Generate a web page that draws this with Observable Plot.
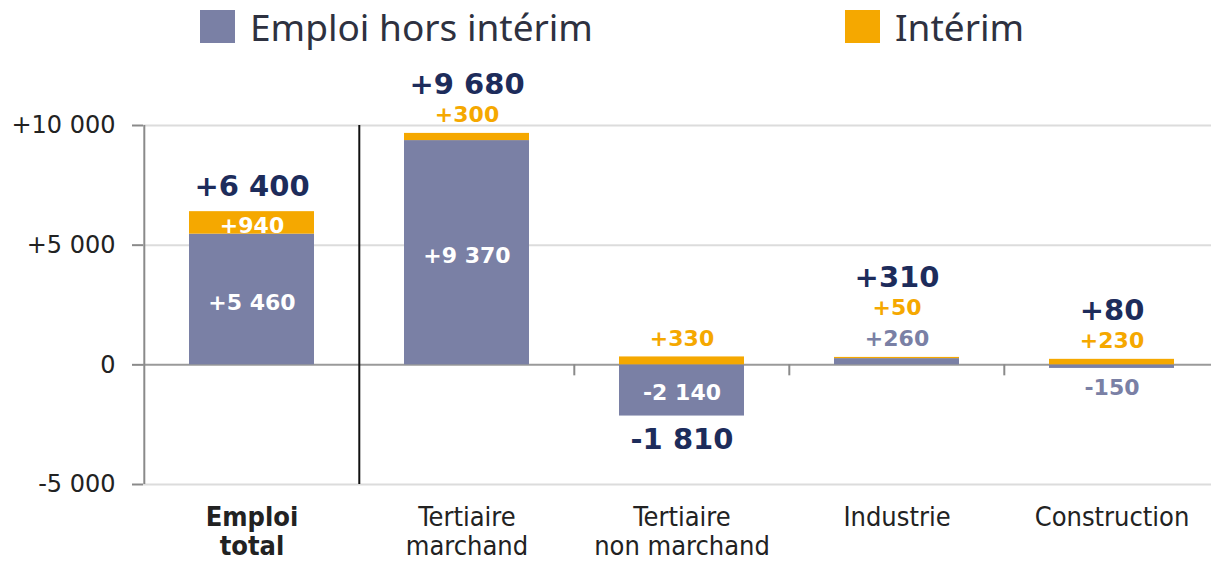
<!DOCTYPE html>
<html><head><meta charset="utf-8">
<script src="https://cdn.jsdelivr.net/npm/d3@7"></script>
<script src="https://cdn.jsdelivr.net/npm/@observablehq/plot@0.6"></script>
<style>
body{margin:0;background:#fff;overflow:hidden;}
#legend{position:relative;height:58px;width:1211px;font-family:"Noto Sans",sans-serif;font-size:37px;color:#2e3140;}
.item{position:absolute;top:6px;display:flex;align-items:center;height:40px;}
.sw{width:35px;height:33px;margin-right:15px;}
#chart{width:1211px;overflow:hidden;}
</style></head><body>
<div id="legend"></div>
<div id="chart"></div>
<script>
// ---- data ----
const categories = ["Emploi total", "Tertiaire marchand", "Tertiaire non marchand", "Industrie", "Construction"];
const tickLabels = ["Emploi\ntotal", "Tertiaire\nmarchand", "Tertiaire\nnon marchand", "Industrie", "Construction"];
const horsInterim = [5460, 9370, -2140, 260, -150];
const interim = [940, 300, 330, 50, 230];
const totals = [6400, 9680, -1810, 310, 80];
const seriesNames = ["Emploi hors intérim", "Intérim"];
const seriesColors = ["#7a80a5", "#f5a800"];
const yTicks = [-5000, 0, 5000, 10000];

// ---- legend ----
const legend = document.getElementById("legend");
const legendLeft = [200, 845];
seriesNames.forEach((s, i) => {
  const it = document.createElement("div");
  it.className = "item";
  it.style.left = legendLeft[i] + "px";
  it.innerHTML = `<div class="sw" style="background:${seriesColors[i]}"></div><span>${s}</span>`;
  legend.appendChild(it);
});

// ---- layout ----
const W = 1211, H = 507, mL = 143, mR = -9, mT = 67, mB = 81;
const step = (W - mL - mR) / categories.length;
const fmt = v => (v > 0 ? "+" : v < 0 ? "-" : "") + d3.format(",")(Math.abs(v)).replace(/,/g, " ");

const rows = categories.flatMap((c, i) => [
  {cat: c, series: seriesNames[0], value: horsInterim[i]},
  {cat: c, series: seriesNames[1], value: interim[i]}
]);

// ---- value labels ----
const NAVY = "#1d2c5b";
const INSIDE = 500;
const labels = [];
categories.forEach((c, i) => {
  const h = horsInterim[i], t = interim[i], tot = totals[i];
  const top = Math.max(h, 0) + Math.max(t, 0);
  const bottom = Math.min(h, 0) + Math.min(t, 0);
  const segs = [
    {v: h, mid: h / 2, color: seriesColors[0]},
    {v: t, mid: (Math.sign(h) === Math.sign(t) ? h : 0) + t / 2, color: seriesColors[1]}
  ];
  let k = 0, prevDy = 0;
  segs.forEach(s => {
    if (Math.abs(s.v) >= INSIDE) {
      labels.push({cat: c, y: s.mid, dy: 3, text: fmt(s.v), fill: "#ffffff", size: 22});
    } else if (s.v > 0) {
      prevDy = -18 - 31 * k;
      labels.push({cat: c, y: top, dy: prevDy, text: fmt(s.v), fill: s.color, size: 22});
      k++;
    } else {
      labels.push({cat: c, y: bottom, dy: 20, text: fmt(s.v), fill: s.color, size: 22});
    }
  });
  if (tot >= 0) {
    labels.push({cat: c, y: top, dy: k === 0 ? -25 : prevDy - 31, text: fmt(tot), fill: NAVY, size: 29});
  } else {
    labels.push({cat: c, y: bottom, dy: 24, text: fmt(tot), fill: NAVY, size: 29});
  }
});
const groups = d3.groups(labels, d => `${d.dy}|${d.fill}|${d.size}`);
const labelMarks = groups.map(([key, arr]) => Plot.text(arr, {
  x: "cat", y: "y", text: "text", dy: arr[0].dy, fill: arr[0].fill, fontSize: arr[0].size,
  fontWeight: "bold", fontFamily: "DejaVu Sans"
}));

const xLabelFont = `"Liberation Sans Narrow", "DejaVu Sans Condensed", sans-serif`;

const chart = Plot.plot({
  width: W, height: H,
  marginLeft: mL, marginRight: mR, marginTop: mT, marginBottom: mB,
  style: {fontFamily: "DejaVu Sans", background: "#fff", overflow: "visible"},
  x: {domain: categories, paddingInner: 0.42, paddingOuter: 0.21, axis: null},
  y: {domain: [-5000, 10000]},
  color: {domain: seriesNames, range: seriesColors},
  marks: [
    Plot.ruleY(yTicks.filter(d => d !== 0), {stroke: "#dcdcdc", strokeWidth: 2}),
    Plot.ruleY([0], {stroke: "#9a9a9a", strokeWidth: 2}),
    Plot.barY(rows, {x: "cat", y: "value", fill: "series"}),
    Plot.ruleX([categories[0]], {dx: -step / 2, y1: -5000, y2: 10000, stroke: "#8a8a8a", strokeWidth: 2}),
    Plot.ruleX([categories[1]], {dx: -step / 2, y1: -5000, y2: 10000, stroke: "#111", strokeWidth: 2}),
    Plot.ruleX(categories.slice(2), {dx: -step / 2, y1: 0, y2: 0, insetBottom: -11, stroke: "#8a8a8a", strokeWidth: 2}),
    Plot.axisY(yTicks, {tickFormat: fmt, tickSize: 11, tickPadding: 17, fontSize: 24, stroke: "#8a8a8a", strokeWidth: 2, fill: "#222", strokeOpacity: 1}),
    Plot.text([0], {x: i => categories[i], text: i => tickLabels[i], frameAnchor: "bottom", lineAnchor: "top", dy: 22,
      fontSize: 27, fontWeight: "bold", fontFamily: xLabelFont, fill: "#222", lineHeight: 1.04}),
    Plot.text([1, 2, 3, 4], {x: i => categories[i], text: i => tickLabels[i], frameAnchor: "bottom", lineAnchor: "top", dy: 22,
      fontSize: 27, fontFamily: xLabelFont, fill: "#222", lineHeight: 1.04}),
    ...labelMarks
  ]
});
document.getElementById("chart").appendChild(chart);
</script>
</body></html>
